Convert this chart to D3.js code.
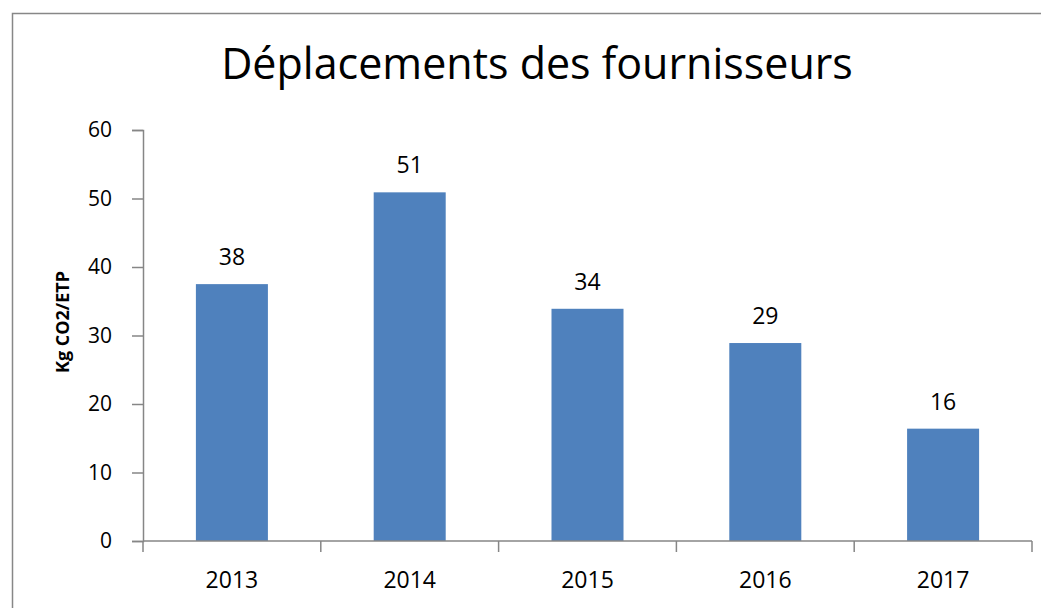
<!DOCTYPE html>
<html>
<head>
<meta charset="utf-8">
<script src="https://cdn.jsdelivr.net/npm/d3@7"></script>
<style>
  html, body { margin: 0; padding: 0; background: #fff; }
  svg { display: block; font-family: "Open Sans", "Noto Sans", sans-serif; }
</style>
</head>
<body>
<div id="chart"></div>
<script>
// chart data
var years = ['2013', '2014', '2015', '2016', '2017'];
var values = [37.5, 50.9, 33.9, 28.9, 16.4];
var yTicks = [0, 10, 20, 30, 40, 50, 60];
var title = 'Déplacements des fournisseurs';
var yTitle = 'Kg CO2/ETP';

var width = 1041, height = 608;
var margin = { top: 130, right: 9, bottom: 67, left: 143 };

var svg = d3.select('#chart').append('svg')
    .attr('width', width)
    .attr('height', height);

// outer frame of the chart area
svg.append('rect')
    .attr('x', 12.5).attr('y', 13.5)
    .attr('width', 1100).attr('height', 700)
    .attr('fill', 'none')
    .attr('stroke', '#878787')
    .attr('stroke-width', 1.5);

var x = d3.scaleBand()
    .domain(years)
    .range([margin.left, width - margin.right])
    .paddingInner(0.595)
    .paddingOuter(0.2975);

var y = d3.scaleLinear()
    .domain([0, 60])
    .range([height - margin.bottom, margin.top]);

svg.append('text')
    .attr('x', 537).attr('y', 79)
    .attr('text-anchor', 'middle')
    .attr('font-size', 43)
    .attr('fill', '#000')
    .text(title);

// bars
svg.append('g').selectAll('rect')
    .data(values)
    .enter().append('rect')
    .attr('x', function (d, i) { return x(years[i]); })
    .attr('y', function (d) { return y(d); })
    .attr('width', x.bandwidth())
    .attr('height', function (d) { return y(0) - y(d); })
    .attr('fill', '#4f81bd');

// value labels
svg.append('g').selectAll('text')
    .data(values)
    .enter().append('text')
    .attr('x', function (d, i) { return x(years[i]) + x.bandwidth() / 2; })
    .attr('y', function (d) { return y(d) - 19; })
    .attr('text-anchor', 'middle')
    .attr('font-size', 23)
    .attr('fill', '#000')
    .text(function (d) { return d3.format('.0f')(d); });

// y axis
var yAxis = svg.append('g')
    .attr('transform', 'translate(' + margin.left + ',0)')
    .call(d3.axisLeft(y).tickValues(yTicks).tickSize(11).tickPadding(20));

// x axis, ticks sit between categories
var bounds = d3.range(years.length + 1).map(function (i) {
    return margin.left + i * x.step();
});
var xAxis = svg.append('g')
    .attr('transform', 'translate(0,' + y(0) + ')');
xAxis.append('line')
    .attr('x1', margin.left).attr('x2', width - margin.right);
xAxis.selectAll('.tk')
    .data(bounds)
    .enter().append('line')
    .attr('class', 'tk')
    .attr('x1', function (d) { return d; })
    .attr('x2', function (d) { return d; })
    .attr('y1', 0).attr('y2', 11);
xAxis.selectAll('text')
    .data(years)
    .enter().append('text')
    .attr('x', function (d) { return x(d) + x.bandwidth() / 2; })
    .attr('y', 47)
    .attr('text-anchor', 'middle')
    .attr('font-size', 23)
    .attr('fill', '#000')
    .text(function (d) { return d; });
xAxis.selectAll('line')
    .attr('stroke', '#868686')
    .attr('stroke-width', 1.5);

yAxis.select('.domain').attr('stroke', '#868686').attr('stroke-width', 1.5);
yAxis.selectAll('.tick line').attr('stroke', '#868686').attr('stroke-width', 1.5);
yAxis.selectAll('.tick text')
    .attr('font-size', 21)
    .attr('font-family', '"Open Sans", "Noto Sans", sans-serif')
    .attr('fill', '#000');

svg.append('text')
    .attr('transform', 'translate(69,322) rotate(-90)')
    .attr('text-anchor', 'middle')
    .attr('font-size', 18)
    .attr('font-weight', 'bold')
    .attr('fill', '#000')
    .text(yTitle);
</script>
</body>
</html>
